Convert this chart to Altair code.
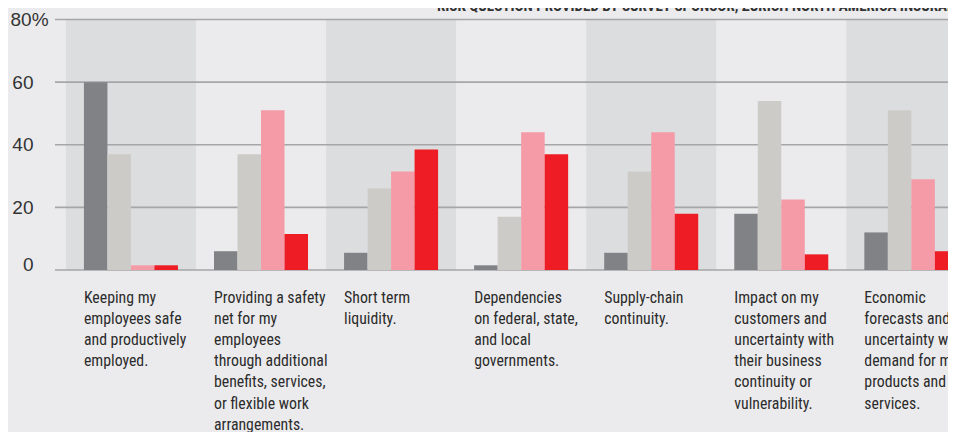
import altair as alt
import pandas as pd

# ---------------- data ----------------
categories = [
    "Keeping my employees safe and productively employed.",
    "Providing a safety net for my employees through additional benefits, services, or flexible work arrangements.",
    "Short term liquidity.",
    "Dependencies on federal, state, and local governments.",
    "Supply-chain continuity.",
    "Impact on my customers and uncertainty with their business continuity or vulnerability.",
    "Economic forecasts and uncertainty with demand for my products and services.",
]
label_lines = [
    ["Keeping my", "employees safe", "and productively", "employed."],
    ["Providing a safety", "net for my", "employees", "through additional",
     "benefits, services,", "or flexible work", "arrangements."],
    ["Short term", "liquidity."],
    ["Dependencies", "on federal, state,", "and local", "governments."],
    ["Supply-chain", "continuity."],
    ["Impact on my", "customers and", "uncertainty with", "their business",
     "continuity or", "vulnerability."],
    ["Economic", "forecasts and", "uncertainty with", "demand for my",
     "products and", "services."],
]
series = ["Series 1", "Series 2", "Series 3", "Series 4"]
series_1 = [60, 6, 5.5, 1.5, 5.5, 18, 12]
series_2 = [37, 37, 26, 17, 31.5, 54, 51]
series_3 = [1.5, 51, 31.5, 44, 44, 22.5, 29]
series_4 = [1.5, 11.5, 38.5, 37, 18, 5, 6]
series_colors = ["#818285", "#CCCBC8", "#F59BA7", "#EE1C25"]
y_ticks = [0, 20, 40, 60, 80]
source_note = "RISK QUESTION PROVIDED BY SURVEY SPONSOR, ZURICH NORTH AMERICA INSURANCE"

# ---------------- tables ----------------
rows = []
for s_name, vals in zip(series, [series_1, series_2, series_3, series_4]):
    for c, v in zip(categories, vals):
        rows.append({"cat": c, "series": s_name, "value": v})
bars_df = pd.DataFrame(rows)
labels_df = pd.DataFrame({"cat": categories,
                          "label": ["\n".join(l) for l in label_lines]})
bands_df = pd.DataFrame({"cat": categories[::2]})
grid_df = pd.DataFrame({"v": y_ticks})
note_df = pd.DataFrame({"note": [source_note]})

# ---------------- layout ----------------
PLOT_W, PLOT_H = 893, 424
BAND = 130.07
X0 = 10.9
x_scale = alt.Scale(domain=categories, range=[X0, X0 + BAND * len(categories)],
                    paddingInner=0, paddingOuter=0)
y_scale = alt.Scale(domain=[-51.74, 83.68], nice=False, zero=False)
FONT_NARROW = ("Roboto Condensed, Noto Sans Condensed, Noto Sans SemiCondensed, "
               "Liberation Sans Narrow, DejaVu Sans Condensed, sans-serif")

y_axis = alt.Axis(
    values=y_ticks, title=None, ticks=False, domain=False, grid=False,
    labelExpr="datum.value == 80 ? '80%' : datum.label",
    labelFont="Liberation Sans, Arial, sans-serif", labelFontSize=19,
    labelColor="#333333", labelBaseline="middle",
    labelAlign={"condition": {"test": "datum.value == 80", "value": "left"},
                "value": "right"},
    labelPadding={"condition": {"test": "datum.value == 80", "value": 45},
                  "value": 22},
    labelOffset={"condition": {"test": "datum.value == 0", "value": -6},
                 "value": 0},
)

bands = alt.Chart(bands_df).mark_rect(color="#DCDDDF", clip=True).encode(
    x=alt.X("cat:N", scale=x_scale, axis=None),
    y=alt.datum(0, scale=y_scale, axis=y_axis),
    y2=alt.datum(80),
)

grid = alt.Chart(grid_df).mark_rule(color="#A6A6A8", strokeWidth=1.6).encode(
    y=alt.Y("v:Q", scale=y_scale, axis=y_axis),
)

bars = alt.Chart(bars_df).mark_bar(clip=True).encode(
    x=alt.X("cat:N", scale=x_scale, axis=None),
    xOffset=alt.XOffset("series:N", sort=series,
                        scale=alt.Scale(domain=series, paddingInner=0, paddingOuter=0.767)),
    y=alt.Y("value:Q", scale=y_scale, axis=y_axis),
    color=alt.Color("series:N", scale=alt.Scale(domain=series, range=series_colors),
                    legend=None),
)

labels = alt.Chart(labels_df).mark_text(
    align="left", baseline="top", dy=21, lineBreak="\n", lineHeight=21.1,
    font=FONT_NARROW, fontSize=15.8, color="#2B2B2B", clip=True,
).encode(
    x=alt.X("cat:N", scale=x_scale, axis=None, bandPosition=0.1386),
    y=alt.datum(0, scale=y_scale, axis=y_axis),
    text="label:N",
)

note = alt.Chart(note_df).mark_text(
    align="left", baseline="alphabetic", font=FONT_NARROW, fontSize=15,
    fontWeight="bold", color="#333333", clip=True,
).encode(
    x=alt.value(382),
    y=alt.value(3),
    text="note:N",
)

chart = alt.layer(bands, grid, bars, labels, note).properties(
    width=PLOT_W, height=PLOT_H,
    autosize=alt.AutoSizeParams(type="none"),
    padding={"left": 47, "top": 0, "right": 0, "bottom": 0},
    background="#EBEBED",
).configure_view(stroke=None)

chart.save("out.html", embed_options={"renderer": "svg", "actions": False})
